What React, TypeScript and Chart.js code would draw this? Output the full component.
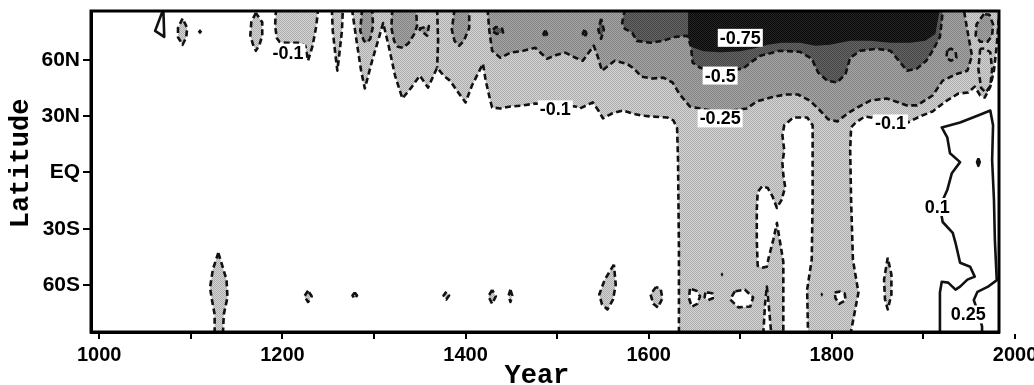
import React, { useEffect, useRef } from 'react';
import { Chart, registerables } from 'chart.js';

Chart.register(...registerables);

type Pt = [number, number]; // [year, latitude]

// ---------- axes ----------
const yearMin = 991;
const yearMax = 1982.5;
const latMin = -85;
const latMax = 86;
const yearTicks = [1000, 1100, 1200, 1300, 1400, 1500, 1600, 1700, 1800, 1900, 2000];
const yearTickLabels = ['1000', '', '1200', '', '1400', '', '1600', '', '1800', '', '2000'];
const latTicks = [-60, -30, 0, 30, 60];
const latTickLabels = ['60S', '30S', 'EQ', '30N', '60N'];

// ---------- -0.1 contour (light shading inside) ----------
const m01North: Pt[] = [
  [1276, 87], [1281, 70], [1286, 54], [1290, 44.7], [1298, 59.5], [1306, 72.8], [1310, 79.6], [1316, 67.5],
  [1323, 51.6], [1331, 39.4], [1340, 44.7], [1350, 51.6], [1359, 45.2], [1369, 55.8], [1376, 51.6], [1383, 48.9],
  [1392, 42.6], [1400, 37.3], [1407, 46.3], [1419, 57.9], [1422, 48.9], [1427, 38.3], [1429, 34.6], [1438, 34.1],
  [1449, 35.1], [1463, 35.7], [1476, 36.7], [1498, 36.2], [1520, 35.1], [1525, 34.1], [1534, 36.2], [1539, 37.3],
  [1545, 33.0], [1550, 28.8], [1560, 31.4], [1572, 33.0], [1582, 31.4], [1591, 30.4], [1602, 29.8], [1620, 29.3],
  [1627, 27.7], [1631, 23.5], [1632, 6.5], [1633, -41.2], [1633, -87],
  [1725, -87], [1727, -70.3], [1729, -60.8], [1731, -70.3], [1734, -87],
  [1747, -87], [1747, -62.4], [1747, -47.6], [1743, -35.9], [1740, -26.9], [1736, -35.9], [1731, -45.4],
  [1729, -50.2], [1724, -50.7], [1719, -49.7], [1718, -35.9], [1718, -20], [1719, -10.5], [1724, -7.3],
  [1730, -8.3], [1735, -12.6], [1740, -18.9], [1745, -14.7], [1749, -7.8], [1747, -1.4], [1746, 5.0],
  [1748, 11.8], [1746, 19.8], [1748, 25.1], [1758, 29.3], [1773, 29.3], [1779, 25.1], [1779, -14.7],
  [1778, -46.5], [1773, -62.4], [1774, -87],
  [1820, -87], [1829, -64], [1823, -46.5], [1821, -14.7], [1820, 11.8], [1821, 24], [1826, 26.6], [1836, 29.8],
  [1864, 27.7], [1883, 26.6], [1896, 29.8], [1910, 32.5], [1924, 37.8], [1938, 42], [1949, 42.6], [1956, 45.7],
  [1962, 41], [1967, 39.9], [1973, 45.7], [1977, 54.2], [1980, 67.5], [1982, 80.7], [1984, 87],
  [1276, 87],
];
const m01Lens1090: Pt[] = [[1091, 82], [1086, 77], [1086, 72], [1091, 68], [1095, 72], [1096, 77], [1091, 82]];
const m01Lens1171: Pt[] = [[1171, 85], [1166, 80], [1165, 73], [1168, 68], [1171, 64.8], [1175, 68], [1178, 73], [1178, 80], [1171, 85]];
const m01Cap1215: Pt[] = [[1193, 87], [1192, 78], [1194, 71.5], [1197, 69.5], [1203, 69.1], [1219, 69.1], [1225, 67.5], [1228, 59.5], [1233, 67.5], [1237, 78], [1239, 87], [1193, 87]];
const m01Spike1260: Pt[] = [[1254, 87], [1255, 75.4], [1258, 62.2], [1260, 54.2], [1262, 62.2], [1265, 75.4], [1266, 87], [1254, 87]];
const m01Line1369: Pt[] = [[1369, 87], [1370, 70], [1369, 55.8]];
const m01South1130: Pt[] = [[1130, -42.8], [1124, -51.8], [1121, -61.4], [1123, -67.7], [1126, -75.6], [1126, -87], [1135, -87], [1136, -75.6], [1140, -66.6], [1139, -57.1], [1134, -49.1], [1130, -42.8]];
const m01S1228: Pt[] = [[1228, -63], [1224, -66], [1228, -69], [1232, -66], [1228, -63]];
const m01S1279: Pt[] = [[1279, -64], [1276.5, -65.6], [1279, -67.2], [1281.5, -65.6], [1279, -64]];
const m01S1379: Pt[] = [[1379, -63.5], [1376, -65.6], [1379, -67.7], [1382, -65.6], [1379, -63.5]];
const m01S1429: Pt[] = [[1429, -62.5], [1425, -66], [1429, -70], [1433, -66], [1429, -62.5]];
const m01S1449: Pt[] = [[1449, -62.5], [1447, -65.6], [1449, -69], [1451, -65.6], [1449, -62.5]];
const m01S1555: Pt[] = [[1562, -49.1], [1552, -57.1], [1546, -65], [1549, -70.3], [1555, -73], [1561, -67.7], [1564, -59.8], [1562, -49.1]];
const m01S1608: Pt[] = [[1608, -61], [1602, -65], [1605, -70], [1610, -72], [1615, -67], [1613, -62], [1608, -61]];
const m01S1861: Pt[] = [[1861, -45.4], [1857, -57.1], [1858, -67.7], [1861, -73], [1865, -65], [1865, -54.4], [1861, -45.4]];
const m01Loop1968: Pt[] = [[1962, 65.9], [1960, 55], [1963, 45], [1968, 42.6], [1973, 46], [1975, 55], [1973, 64], [1967, 66], [1962, 65.9]];
// white holes (> -0.1) inside the cold bands
const hole1650: Pt[] = [[1645, -62], [1644, -67], [1647, -71.5], [1653, -70], [1656, -66], [1652, -63], [1645, -62]];
const hole1666: Pt[] = [[1662, -64], [1661, -66.5], [1665, -68], [1670, -67], [1670, -64.5], [1665, -64], [1662, -64]];
const hole1700: Pt[] = [[1694, -63.4], [1689, -67.7], [1698, -71.9], [1711, -71.4], [1714, -66.6], [1705, -62.4], [1694, -63.4]];
const hole1808: Pt[] = [[1803, -64], [1809, -63.5], [1814, -64.5], [1815, -68], [1808, -70], [1804, -67], [1803, -64]];
const dot1110: Pt[] = [[1110, 76.4], [1107.5, 75], [1110, 73.6], [1112.5, 75], [1110, 76.4]];
const dot1680: Pt[] = [[1680, -53.2], [1678.5, -54.4], [1680, -55.6], [1681.5, -54.4], [1680, -53.2]];
const dot1789: Pt[] = [[1789, -63.8], [1787.5, -65], [1789, -66.2], [1790.5, -65], [1789, -63.8]];

// ---------- -0.25 contour (medium shading) ----------
const m025Main: Pt[] = [
  [1424, 87], [1426, 75.4], [1429, 64.8], [1438, 61.1], [1449, 63.8], [1463, 64.8], [1476, 66.4], [1489, 60.6],
  [1500, 62.7], [1509, 63.8], [1520, 61.1], [1528, 59.5], [1536, 64.8], [1540, 67.5], [1544, 62.2], [1549, 54.2],
  [1556, 56.9], [1563, 59.5], [1576, 57.9], [1584, 55.3], [1592, 51], [1604, 50], [1616, 50.5], [1626, 47.9],
  [1634, 41.5], [1645, 35.1], [1678, 32], [1707, 34.1], [1718, 37.8], [1733, 39.9], [1749, 41.5], [1763, 41.5],
  [1776, 38.3], [1787, 33], [1796, 28.3], [1806, 27.2], [1817, 31.4], [1828, 34.6], [1842, 38.3], [1860, 39.4],
  [1882, 35.7], [1893, 35.7], [1910, 41], [1921, 48.9], [1937, 52.6], [1948, 54.2], [1953, 62.2], [1949, 72.8],
  [1944, 87], [1424, 87],
];
const m025Lens1292: Pt[] = [[1287, 87], [1285, 75.4], [1289, 70.1], [1292, 69.1], [1296, 71.2], [1299, 78], [1298, 87], [1287, 87]];
const m025Lens1333: Pt[] = [[1320, 87], [1319, 77], [1322, 70], [1326, 67], [1332, 66.4], [1338, 69], [1344, 73.8], [1347, 78], [1346, 87], [1320, 87]];
const m025Bow1354: Pt[] = [[1349, 76.5], [1360, 78], [1358, 72.8], [1349, 76.5]];
const m025Lens1395: Pt[] = [[1388, 87], [1385, 76], [1388, 70], [1393, 67.5], [1398, 70], [1404, 77], [1404, 87], [1388, 87]];
const m025Lens1966: Pt[] = [[1966, 84.4], [1958, 79], [1957, 73], [1962, 69.6], [1970, 69.6], [1975, 73], [1976, 79], [1972, 84], [1966, 84.4]];
const m025Loop1930: Pt[] = [[1926, 65], [1925, 61], [1930, 59.5], [1936, 61], [1935, 64.5], [1930, 66], [1926, 65]];

// ---------- -0.5 contour (dark shading) ----------
const m05Main: Pt[] = [
  [1574, 87], [1571, 79.6], [1574, 76.5], [1582, 74.4], [1587, 70.1], [1602, 69.1], [1615, 70.1], [1629, 72.2],
  [1642, 72.8], [1646, 67.5], [1648, 58.5], [1656, 55.8], [1678, 53.7], [1703, 55.3], [1711, 58.5], [1722, 62.2],
  [1743, 64.8], [1765, 64.3], [1778, 60.6], [1785, 53.2], [1795, 48.9], [1806, 47.9], [1815, 52.6], [1820, 61.1],
  [1831, 64.8], [1849, 65.9], [1864, 64.8], [1874, 59], [1882, 54.2], [1893, 55.3], [1903, 59.5], [1910, 64.8],
  [1918, 72.2], [1920, 80.7], [1921, 87], [1574, 87],
];
const m05Loop1435: Pt[] = [[1430, 76], [1433, 77.5], [1440, 76.5], [1441, 74.5], [1434, 73.8], [1430, 75], [1430, 76]];
const m05Loop1487: Pt[] = [[1487, 75.5], [1485, 73.8], [1487, 72], [1489, 73.8], [1487, 75.5]];
const m05Loop1530: Pt[] = [[1530, 76], [1528, 74], [1530, 72], [1532, 74], [1530, 76]];
const m05Lens1548: Pt[] = [[1548, 81.8], [1545, 76], [1548, 71.2], [1551, 76], [1548, 81.8]];

// ---------- < -0.75 core (black) ----------
const m075Core: Pt[] = [
  [1643, 87], [1643, 72], [1648, 66.5], [1660, 64.5], [1678, 64], [1700, 64.5], [1715, 66], [1730, 68],
  [1745, 69.1], [1765, 69.1], [1782, 67.5], [1798, 68], [1820, 70.1], [1842, 70.1], [1864, 69.1], [1885, 69.1],
  [1902, 70.1], [1913, 73.8], [1918, 87], [1643, 87],
];

// ---------- positive contours (solid) ----------
const p01Right: Pt[] = [
  [1918, -87], [1918, -64], [1920, -58.2], [1927, -58.7], [1935, -62.4], [1940, -60.8], [1948, -57.1], [1956, -55.5],
  [1951, -50.2], [1940, -48.1], [1935, -37.5], [1932, -32.2], [1921, -26.4], [1918, -18], [1926, -9.4], [1931, -0.4],
  [1940, 5.5], [1929, 10.2], [1926, 18.7], [1920, 24], [1940, 26.6], [1954, 29.3], [1965, 31.4], [1973, 33],
  [1976, 25.1], [1975, 6.5], [1977, -14.7], [1978, -35.9], [1980, -57.1],
];
const p01Dot1960: Pt[] = [[1960, 7.5], [1958.5, 5.5], [1960, 3.5], [1961.5, 5.5], [1960, 7.5]];
const p01Tri1068: Pt[] = [[1070, 87], [1061, 75.4], [1071, 72.2], [1070, 87]];
const p025Corner: Pt[] = [[1984, -56], [1981, -57.1], [1970, -61], [1959, -63.6], [1955, -68], [1960, -75], [1964, -82], [1964, -87]];

// ---------- contour labels ----------
const labelTexts = ['-0.75', '-0.5', '-0.25', '-0.1', '-0.1', '-0.1', '0.1', '0.25'];
const labelYears = [1700, 1678, 1678, 1498, 1864, 1206, 1915, 1949];
const labelLats = [71.7, 51.6, 28.8, 33.6, 26.1, 63.8, -18.4, -75.6];

type Kind = 'neg' | 'pos' | 'none';
type Contour = { pts: Pt[]; shade: string | null; kind: Kind };

const contours: Contour[] = [
  { pts: m01North, shade: 'light', kind: 'neg' },
  { pts: m01Lens1090, shade: 'light', kind: 'neg' },
  { pts: m01Lens1171, shade: 'light', kind: 'neg' },
  { pts: m01Cap1215, shade: 'light', kind: 'neg' },
  { pts: m01Spike1260, shade: 'light', kind: 'neg' },
  { pts: m01South1130, shade: 'light', kind: 'neg' },
  { pts: m01S1228, shade: 'light', kind: 'neg' },
  { pts: m01S1279, shade: 'light', kind: 'neg' },
  { pts: m01S1379, shade: 'light', kind: 'neg' },
  { pts: m01S1429, shade: 'light', kind: 'neg' },
  { pts: m01S1449, shade: 'light', kind: 'neg' },
  { pts: m01S1555, shade: 'light', kind: 'neg' },
  { pts: m01S1608, shade: 'light', kind: 'neg' },
  { pts: m01S1861, shade: 'light', kind: 'neg' },
  { pts: m01Loop1968, shade: 'light', kind: 'neg' },
  { pts: hole1650, shade: 'white', kind: 'neg' },
  { pts: hole1666, shade: 'white', kind: 'neg' },
  { pts: hole1700, shade: 'white', kind: 'neg' },
  { pts: hole1808, shade: 'white', kind: 'neg' },
  { pts: m01Line1369, shade: null, kind: 'neg' },
  { pts: m025Main, shade: 'medium', kind: 'neg' },
  { pts: m025Lens1292, shade: 'medium', kind: 'neg' },
  { pts: m025Lens1333, shade: 'medium', kind: 'neg' },
  { pts: m025Bow1354, shade: 'medium', kind: 'neg' },
  { pts: m025Lens1395, shade: 'medium', kind: 'neg' },
  { pts: m025Lens1966, shade: 'medium', kind: 'neg' },
  { pts: m025Loop1930, shade: 'medium', kind: 'neg' },
  { pts: m05Main, shade: 'dark', kind: 'neg' },
  { pts: m05Loop1435, shade: 'dark', kind: 'neg' },
  { pts: m05Loop1487, shade: 'dark', kind: 'neg' },
  { pts: m05Loop1530, shade: 'dark', kind: 'neg' },
  { pts: m05Lens1548, shade: 'dark', kind: 'neg' },
  { pts: m075Core, shade: 'black', kind: 'none' },
  { pts: dot1110, shade: 'ink', kind: 'none' },
  { pts: dot1680, shade: 'ink', kind: 'none' },
  { pts: dot1789, shade: 'ink', kind: 'none' },
  { pts: p01Right, shade: null, kind: 'pos' },
  { pts: p01Dot1960, shade: 'ink', kind: 'pos' },
  { pts: p01Tri1068, shade: null, kind: 'pos' },
  { pts: p025Corner, shade: null, kind: 'pos' },
];

const shadeColors: Record<string, [string, string]> = {
  light: ['#d4d4d4', '#adadad'],
  medium: ['#a6a6a6', '#838383'],
  dark: ['#666666', '#454545'],
  black: ['#242424', '#0a0a0a'],
  white: ['#ffffff', '#ffffff'],
  ink: ['#111111', '#111111'],
};

function makePattern(ctx: CanvasRenderingContext2D, a: string, b: string) {
  const c = document.createElement('canvas');
  c.width = 2;
  c.height = 2;
  const g = c.getContext('2d')!;
  g.fillStyle = a;
  g.fillRect(0, 0, 2, 2);
  g.fillStyle = b;
  g.fillRect(0, 0, 1, 1);
  g.fillRect(1, 1, 1, 1);
  return ctx.createPattern(c, 'repeat');
}

const shadePlugin = {
  id: 'contourShade',
  beforeDatasetsDraw(chart: any) {
    const { ctx, chartArea: a, scales } = chart;
    const xs = scales.x;
    const ys = scales.y;
    const pats: Record<string, any> = {};
    Object.keys(shadeColors).forEach((k) => {
      pats[k] = makePattern(ctx, shadeColors[k][0], shadeColors[k][1]);
    });
    ctx.save();
    ctx.beginPath();
    ctx.rect(a.left, a.top, a.right - a.left, a.bottom - a.top);
    ctx.clip();
    chart.data.datasets.forEach((ds: any) => {
      if (!ds.shade) return;
      ctx.beginPath();
      ds.data.forEach((p: any, i: number) => {
        const px = xs.getPixelForValue(p.x);
        const py = ys.getPixelForValue(p.y);
        if (i === 0) ctx.moveTo(px, py);
        else ctx.lineTo(px, py);
      });
      ctx.closePath();
      ctx.fillStyle = pats[ds.shade];
      ctx.fill();
    });
    ctx.restore();
  },
  afterDatasetsDraw(chart: any) {
    const { ctx, scales } = chart;
    ctx.save();
    ctx.font = 'bold 18px "Liberation Sans", Arial, sans-serif';
    ctx.textAlign = 'center';
    ctx.textBaseline = 'middle';
    labelTexts.forEach((t, i) => {
      const px = scales.x.getPixelForValue(labelYears[i]);
      const py = scales.y.getPixelForValue(labelLats[i]);
      const w = ctx.measureText(t).width;
      ctx.fillStyle = '#ffffff';
      ctx.fillRect(px - w / 2 - 2, py - 9, w + 4, 18);
      ctx.fillStyle = '#000000';
      ctx.fillText(t, px, py + 1);
    });
    ctx.restore();
  },
  afterDraw(chart: any) {
    const { ctx, chartArea: a } = chart;
    ctx.save();
    ctx.strokeStyle = '#000';
    ctx.lineWidth = 3;
    ctx.strokeRect(a.left, a.top, a.right - a.left, a.bottom - a.top);
    ctx.restore();
  },
};

export default function App() {
  const ref = useRef<HTMLCanvasElement>(null);
  useEffect(() => {
    const canvas = ref.current;
    if (!canvas) return;
    const datasets = contours.map((c) => ({
      data: c.pts.map(([x, y]) => ({ x, y })),
      showLine: true,
      borderColor: '#111111',
      borderWidth: c.kind === 'none' ? 0 : 2.6,
      borderDash: c.kind === 'neg' ? [6, 3.5] : [],
      borderJoinStyle: 'round',
      pointRadius: 0,
      pointHoverRadius: 0,
      fill: false,
      tension: 0,
      shade: c.shade,
    }));
    const xTickFont = { family: '"Liberation Sans", Arial, sans-serif', size: 20, weight: 'bold' as const };
    const yTickFont = { family: '"Liberation Sans", Arial, sans-serif', size: 21, weight: 'bold' as const };
    const titleFont = { family: '"Liberation Mono", "Courier New", monospace', size: 27, weight: 'bold' as const };
    const chart = new Chart(canvas, {
      type: 'scatter',
      data: { datasets: datasets as any },
      plugins: [shadePlugin],
      options: {
        responsive: false,
        animation: false,
        events: [],
        layout: { padding: { top: 3, right: 35, left: 0, bottom: 0 } },
        plugins: { legend: { display: false }, tooltip: { enabled: false } },
        scales: {
          x: {
            type: 'linear',
            min: yearMin,
            max: yearMax,
            afterBuildTicks: (axis: any) => {
              axis.ticks = yearTicks.map((v) => ({ value: v }));
            },
            afterFit: (axis: any) => {
              axis.height = 53;
              axis.paddingLeft = 0;
              axis.paddingRight = 0;
              axis.paddingTop = 0;
              axis.paddingBottom = 0;
            },
            ticks: {
              autoSkip: false,
              maxRotation: 0,
              minRotation: 0,
              padding: 4,
              color: '#000',
              font: xTickFont,
              callback: (v: any) => {
                const i = yearTicks.indexOf(Number(v));
                return i >= 0 ? yearTickLabels[i] : '';
              },
            },
            grid: { drawOnChartArea: false, drawTicks: true, tickLength: 7, color: '#000', lineWidth: 2 },
            border: { display: true, color: '#000', width: 3 },
            title: { display: true, text: 'Year ', color: '#000', font: { ...titleFont, lineHeight: 0.667 }, padding: 0 },
          },
          y: {
            type: 'linear',
            min: latMin,
            max: latMax,
            afterBuildTicks: (axis: any) => {
              axis.ticks = latTicks.map((v) => ({ value: v }));
            },
            afterFit: (axis: any) => {
              axis.width = 83;
              axis.paddingTop = 0;
              axis.paddingBottom = 0;
              axis.paddingLeft = 0;
              axis.paddingRight = 0;
            },
            ticks: {
              padding: 3,
              color: '#000',
              font: yTickFont,
              callback: (v: any) => {
                const i = latTicks.indexOf(Number(v));
                return i >= 0 ? latTickLabels[i] : '';
              },
            },
            grid: { drawOnChartArea: false, drawTicks: true, tickLength: 8, color: '#000', lineWidth: 2 },
            border: { display: true, color: '#000', width: 3 },
            title: { display: true, text: ' Latitude', color: '#000', font: { ...titleFont, lineHeight: 1 }, padding: 0 },
          },
        },
      } as any,
    });
    return () => chart.destroy();
  }, []);
  return (
    <div style={{ position: 'fixed', left: 8, top: 8, width: 1026, height: 377 }}>
      <canvas ref={ref} width={1026} height={377} style={{ display: 'block' }} />
    </div>
  );
}
